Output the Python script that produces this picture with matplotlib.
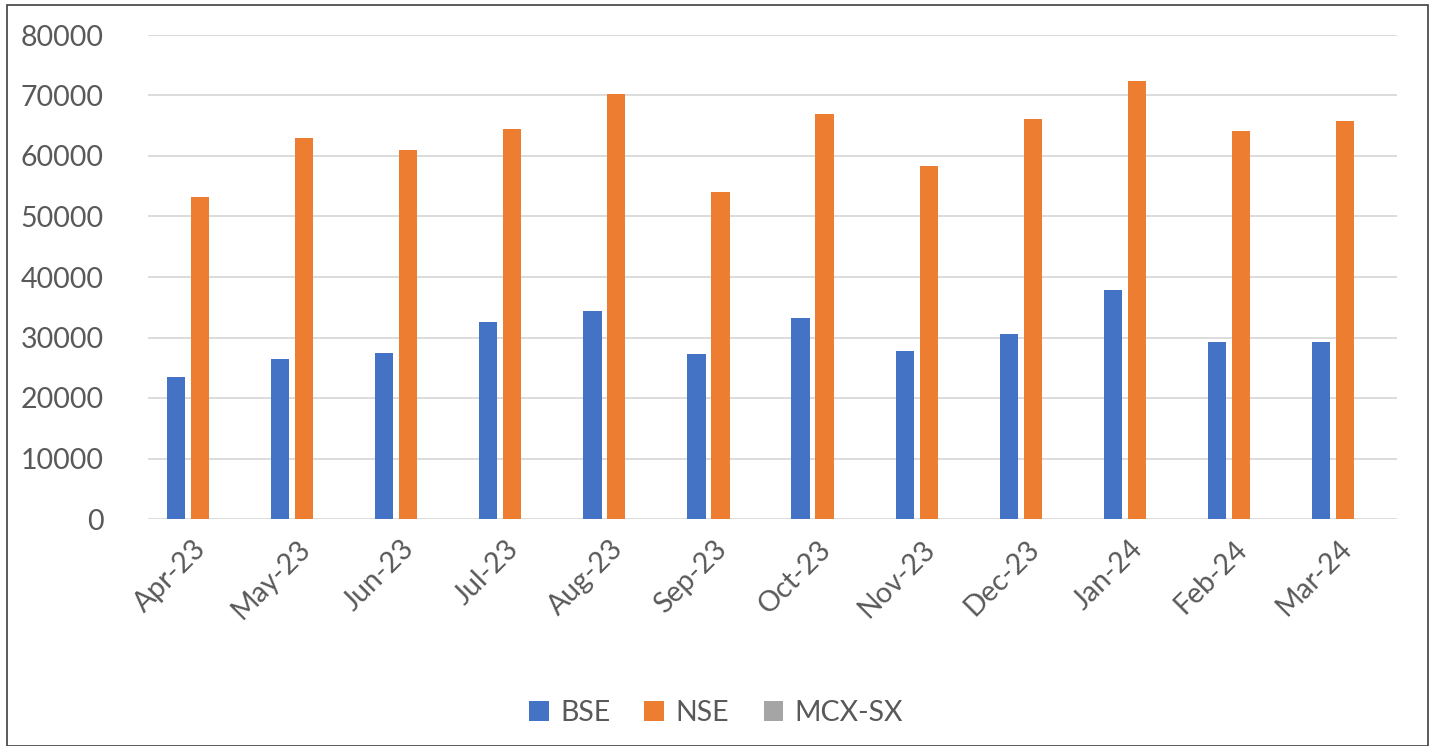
import matplotlib
matplotlib.use("Agg")
import matplotlib.pyplot as plt
import matplotlib.transforms as mtransforms
import numpy as np
from matplotlib.patches import Rectangle

months = ["Apr-23", "May-23", "Jun-23", "Jul-23", "Aug-23", "Sep-23",
          "Oct-23", "Nov-23", "Dec-23", "Jan-24", "Feb-24", "Mar-24"]
bse = [23500, 26400, 27500, 32600, 34300, 27300, 33200, 27800, 30500, 37900, 29300, 29300]
nse = [53200, 63000, 61000, 64500, 70200, 54100, 66900, 58400, 66100, 72400, 64200, 65800]
mcx = [0] * 12
yticks = [0, 10000, 20000, 30000, 40000, 50000, 60000, 70000, 80000]

plt.rcParams['font.family'] = ['Lato', 'DejaVu Sans']
text_color = "#595959"

fig = plt.figure(figsize=(14.32, 7.46), dpi=100)
W, H = 1432, 746
ax = fig.add_axes([148 / W, 1 - 519 / H, (1397 - 148) / W, (519 - 35) / H])

x = np.arange(len(months))
slot = 0.23
bw = 0.175
ax.bar(x - slot, bse, bw, color="#4472C4", label="BSE", zorder=3)
ax.bar(x, nse, bw, color="#ED7D31", label="NSE", zorder=3)
ax.bar(x + slot, mcx, bw, color="#A5A5A5", label="MCX-SX", zorder=3)

ax.set_xlim(-0.5, len(months) - 0.5)
ax.set_ylim(0, 80000)
ax.set_yticks(yticks)
ax.set_yticklabels([str(v) for v in yticks], fontsize=20.5, color=text_color)
ax.set_xticks(x)
ax.set_xticklabels(months, rotation=45, ha="right", rotation_mode="anchor",
                   fontsize=20.5, color=text_color)
ax.tick_params(axis="both", length=0)
ax.tick_params(axis="y", pad=32)
ax.tick_params(axis="x", pad=12)
shift = mtransforms.ScaledTranslation(-7 / 100, 0, fig.dpi_scale_trans)
for lbl in ax.get_xticklabels():
    lbl.set_transform(lbl.get_transform() + shift)
ax.grid(axis="y", color="#D9D9D9", linewidth=1.3, zorder=0)
for s in ax.spines.values():
    s.set_visible(False)

leg = fig.legend(loc="center", bbox_to_anchor=(0.5, 1 - 713 / H), ncol=3,
                 frameon=False, fontsize=20.5, handlelength=0.7, handleheight=0.7,
                 handletextpad=0.4, columnspacing=1.2)
for t in leg.get_texts():
    t.set_color(text_color)

fig.patches.append(Rectangle((7 / W, 0.5 / H), (1428 - 7) / W, (741) / H,
                             transform=fig.transFigure, fill=False,
                             edgecolor="#404040", linewidth=1.2))

fig.savefig("out.png", dpi=100)
